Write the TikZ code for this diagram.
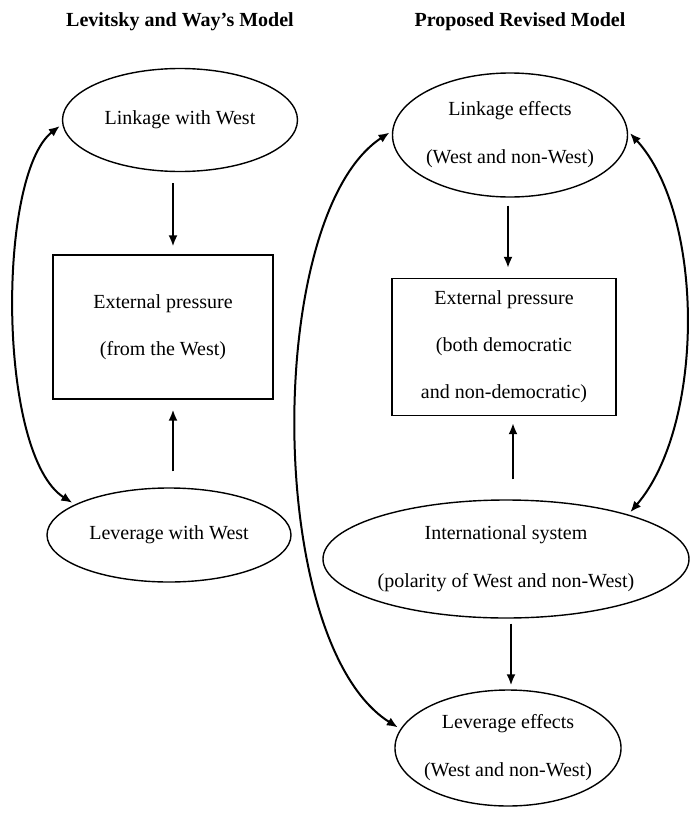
\documentclass[tikz,border=0pt]{standalone}
\usepackage{fontspec}
\setmainfont{Liberation Serif}
\usetikzlibrary{shapes.geometric,arrows.meta}

\begin{document}
\begin{tikzpicture}[x=1pt,y=-1pt]
    \tikzstyle{oval}=[
        draw = black,
        line width = 1.4pt,
        ellipse,
        inner xsep = -4pt,
        inner ysep = 0pt,
        align = center,
        font = \fontsize{20}{48}\selectfont
    ]
    \tikzstyle{box}=[
        draw = black,
        line width = 1.3pt,
        rectangle,
        inner sep = 0pt,
        align = center,
        font = \fontsize{20}{47}\selectfont
    ]
    \tikzstyle{heading}=[
        anchor = base,
        font = \fontsize{20}{24}\selectfont\bfseries
    ]
    \tikzstyle{arr}=[
        line width = 2pt,
        -{Latex[length=11pt,width=9pt]}
    ]
    \tikzstyle{twoway}=[
        line width = 2pt,
        shorten <= 3pt,
        shorten >= 3pt,
        {Latex[length=11pt,width=9pt]}-{Latex[length=11pt,width=9pt]}
    ]

    \useasboundingbox (0,0) rectangle (689,817);

    % left model
    \node[heading] (headL) at (180,26) {Levitsky and Way’s Model};
    \node[oval, minimum width=235pt, minimum height=103pt] (linkL) at (180,120) {Linkage with West};
    \node[box, minimum width=220pt, minimum height=144pt]  (extL)  at (163,327) {External pressure\\(from the West)};
    \node[oval, minimum width=244pt, minimum height=94pt]  (levL)  at (169,535) {Leverage with West};

    % right model
    \node[heading] (headR) at (520,26) {Proposed Revised Model};
    \node[oval, minimum width=235pt, minimum height=124pt] (linkR) at (510,135) {Linkage effects\\(West and non-West)};
    \node[box, minimum width=224pt, minimum height=137pt]  (extR)  at (504,347) {External pressure\\(both democratic\\and non-democratic)};
    \node[oval, minimum width=366pt, minimum height=118pt] (intl)  at (506,559) {International system\\(polarity of West and non-West)};
    \node[oval, minimum width=224pt, minimum height=116pt] (levR)  at (508,748) {Leverage effects\\(West and non-West)};

    \draw[arr, shorten <=11pt, shorten >=8pt]  ([xshift=-7pt]linkL.south) -- ([xshift=10pt]extL.north);
    \draw[arr, shorten <=16pt, shorten >=10pt] ([xshift=4pt]levL.north)   -- ([xshift=10pt]extL.south);
    \draw[twoway] (linkL.182) .. controls (-3,175) and (-3,455) .. (levL.162);

    \draw[arr, shorten <=8pt, shorten >=10pt]  ([xshift=-2pt]linkR.south) -- ([xshift=4pt]extR.north);
    \draw[arr, shorten <=20pt, shorten >=7pt]  ([xshift=7pt]intl.north)   -- ([xshift=9pt]extR.south);
    \draw[arr, shorten <=5pt, shorten >=4pt]   ([xshift=5pt]intl.south)   -- ([xshift=3pt]levR.north);
    \draw[twoway] (linkR.178) .. controls (264,215) and (264,643) .. (levR.170);
    \draw[twoway] (linkR.2) .. controls (705,215) and (705,425) .. (intl.20);

\end{tikzpicture}
\end{document}
